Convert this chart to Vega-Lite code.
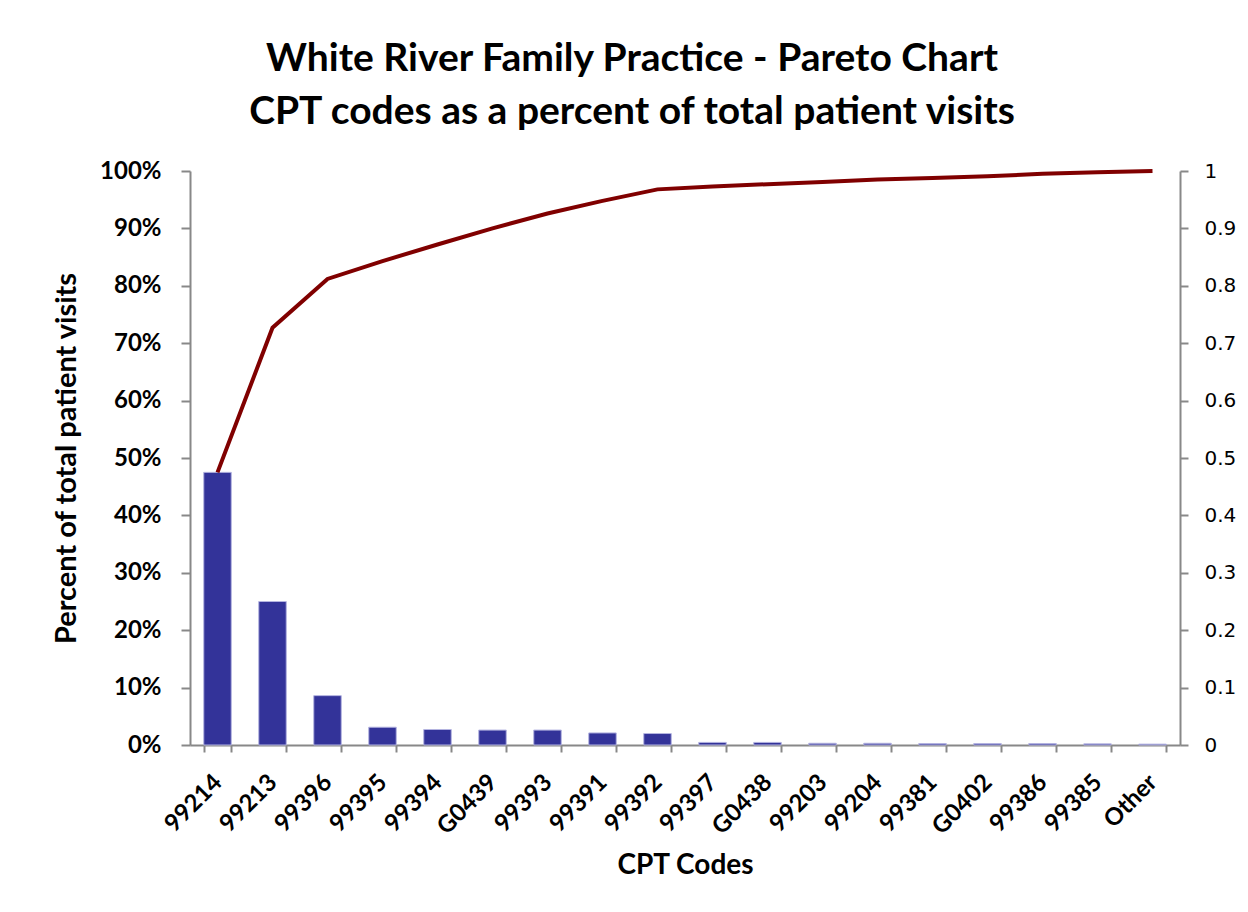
{
  "$schema": "https://vega.github.io/schema/vega-lite/v6.json",
  "width": 990,
  "height": 574,
  "autosize": {"type": "none"},
  "padding": {"left": 190, "top": 171, "right": 68, "bottom": 167},
  "background": "white",
  "config": {"view": {"stroke": null}, "font": "Lato"},
  "title": {
    "text": ["White River Family Practice - Pareto Chart", "CPT codes as a percent of total patient visits"],
    "font": "Lato",
    "fontSize": 39,
    "fontWeight": "bold",
    "lineHeight": 53,
    "anchor": "middle",
    "dx": -53,
    "offset": 27,
    "color": "black"
  },
  "data": {
    "values": [
      {"code": "99214", "pct": 0.475, "cum": 0.475},
      {"code": "99213", "pct": 0.250, "cum": 0.727},
      {"code": "99396", "pct": 0.086, "cum": 0.812},
      {"code": "99395", "pct": 0.031, "cum": 0.843},
      {"code": "99394", "pct": 0.027, "cum": 0.872},
      {"code": "G0439", "pct": 0.026, "cum": 0.900},
      {"code": "99393", "pct": 0.026, "cum": 0.926},
      {"code": "99391", "pct": 0.021, "cum": 0.948},
      {"code": "99392", "pct": 0.020, "cum": 0.968},
      {"code": "99397", "pct": 0.0045, "cum": 0.973},
      {"code": "G0438", "pct": 0.0045, "cum": 0.977},
      {"code": "99203", "pct": 0.003, "cum": 0.981},
      {"code": "99204", "pct": 0.003, "cum": 0.985},
      {"code": "99381", "pct": 0.0025, "cum": 0.988},
      {"code": "G0402", "pct": 0.0025, "cum": 0.991},
      {"code": "99386", "pct": 0.0025, "cum": 0.995},
      {"code": "99385", "pct": 0.002, "cum": 0.998},
      {"code": "Other", "pct": 0.0015, "cum": 1.0}
    ]
  },
  "encoding": {
    "x": {
      "field": "code",
      "type": "nominal",
      "sort": null,
      "scale": {"paddingInner": 0.5, "paddingOuter": 0.25},
      "axis": {
        "title": "CPT Codes",
        "titleFont": "Lato",
        "titleFontSize": 28,
        "titleFontWeight": "bold",
        "titleColor": "black",
        "titlePadding": 13,
        "labelAngle": -45,
        "labelAlign": "right",
        "labelBaseline": "top",
        "labelFont": "Lato",
        "labelFontSize": 24,
        "labelFontWeight": "bold",
        "labelColor": "black",
        "labelPadding": 18,
        "labelOffset": -8,
        "tickBand": "extent",
        "tickSize": 7,
        "tickWidth": 2,
        "tickColor": "#888888",
        "domainColor": "#888888",
        "domainWidth": 2
      }
    }
  },
  "layer": [
    {
      "mark": {"type": "bar", "color": "#333399", "stroke": "#b4b4e0", "strokeWidth": 1},
      "encoding": {
        "y": {
          "field": "pct",
          "type": "quantitative",
          "scale": {"domain": [0, 1], "nice": false},
          "axis": {
            "title": "Percent of total patient visits",
            "titleFont": "Lato",
            "titleFontSize": 29,
            "titleFontWeight": "bold",
            "titleColor": "black",
            "titlePadding": 18,
            "format": ".0%",
            "values": [0, 0.1, 0.2, 0.3, 0.4, 0.5, 0.6, 0.7, 0.8, 0.9, 1],
            "labelFont": "Lato",
            "labelFontSize": 24,
            "labelFontWeight": "bold",
            "labelColor": "black",
            "labelPadding": 20,
            "tickSize": 9,
            "tickWidth": 2,
            "tickColor": "#888888",
            "domainColor": "#888888",
            "domainWidth": 2,
            "grid": false
          }
        }
      }
    },
    {
      "mark": {"type": "line", "color": "#800000", "strokeWidth": 4},
      "encoding": {
        "y": {
          "field": "cum",
          "type": "quantitative",
          "scale": {"domain": [0, 1], "nice": false},
          "axis": {
            "orient": "right",
            "title": null,
            "format": ".1~f",
            "values": [0, 0.1, 0.2, 0.3, 0.4, 0.5, 0.6, 0.7, 0.8, 0.9, 1],
            "labelFont": "DejaVu Sans",
            "labelFontSize": 20,
            "labelColor": "black",
            "labelPadding": 16,
            "tickSize": 8,
            "tickWidth": 2,
            "tickColor": "#888888",
            "domainColor": "#888888",
            "domainWidth": 2,
            "grid": false
          }
        }
      }
    }
  ],
  "resolve": {"scale": {"y": "independent"}}
}
